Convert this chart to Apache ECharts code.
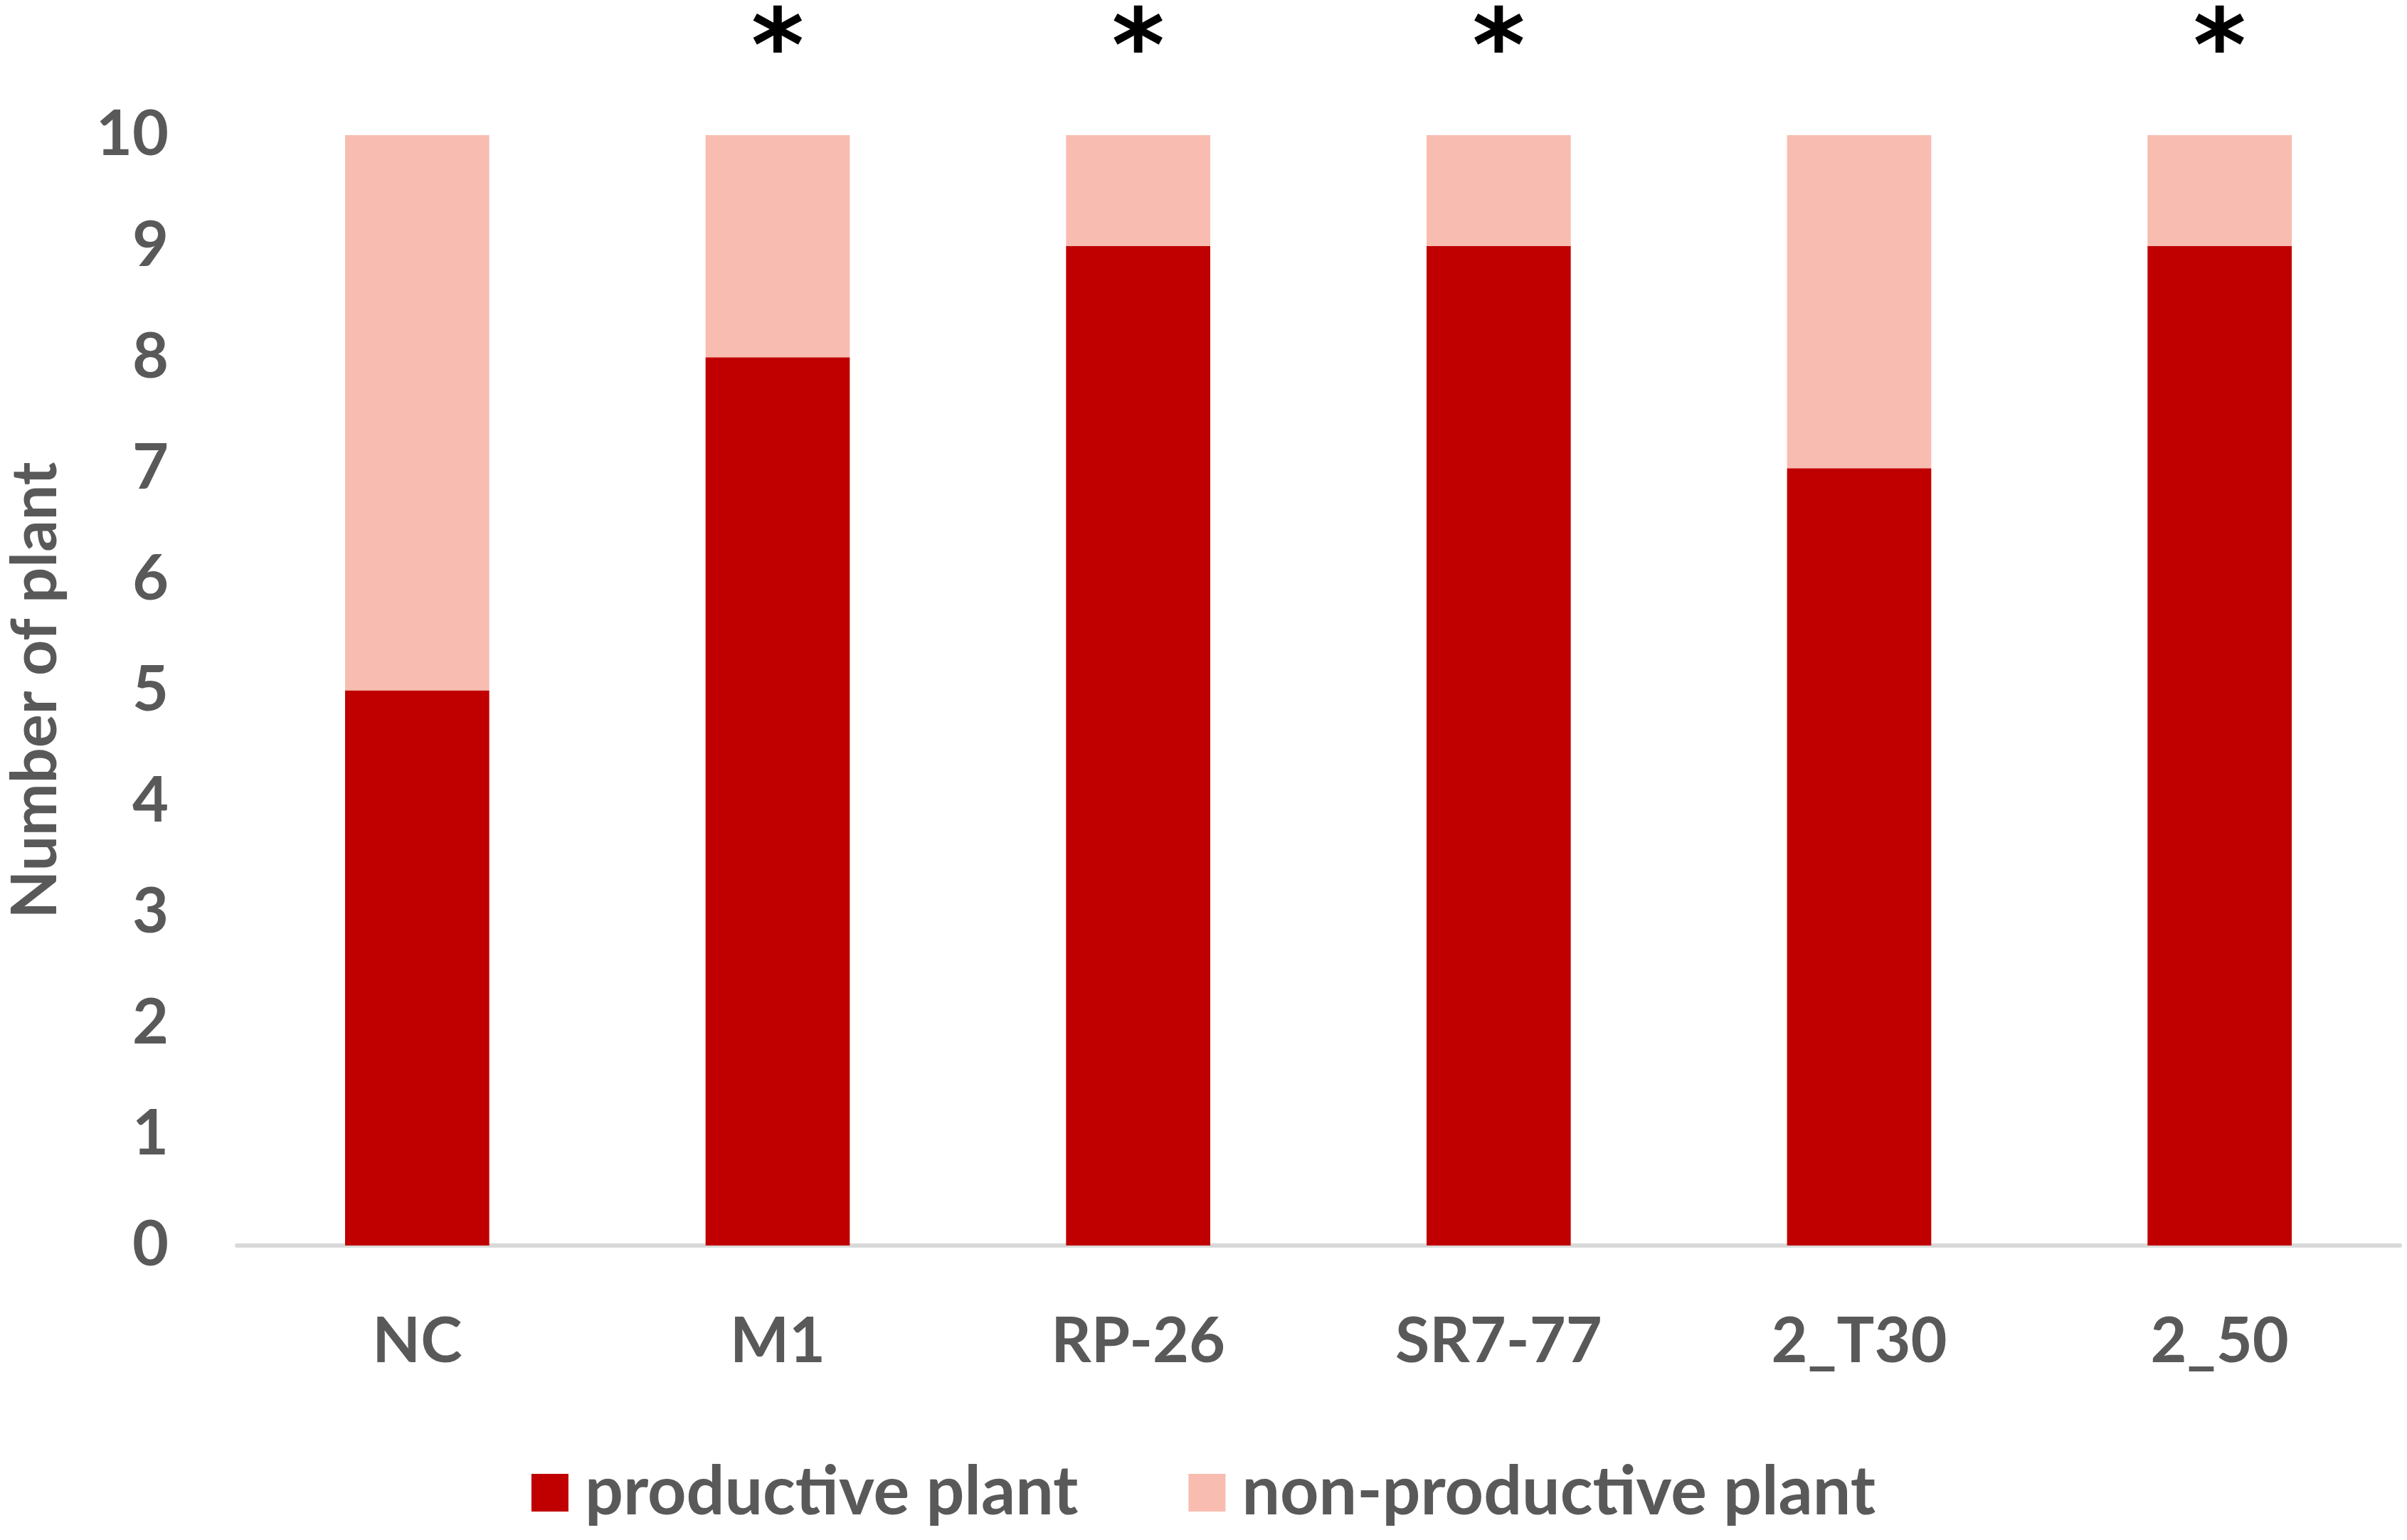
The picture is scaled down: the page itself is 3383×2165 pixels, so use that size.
<!DOCTYPE html>
<html>
<head>
<meta charset="utf-8">
<script src="https://cdn.jsdelivr.net/npm/echarts@6/dist/echarts.min.js"></script>
<style>
  html, body { margin: 0; padding: 0; background: #fff; }
  #main { width: 3383px; height: 2165px; }
</style>
</head>
<body>
<div id="main"></div>
<script>
var categories = ['NC', 'M1', 'RP-26', 'SR7-77', '2_T30', '2_50'];
var productive = [5, 8, 9, 9, 7, 9];
var nonProductive = [5, 2, 1, 1, 3, 1];
var significant = [false, true, true, true, false, true];
var yTicks = [0, 1, 2, 3, 4, 5, 6, 7, 8, 9, 10];

var myChart = echarts.init(document.getElementById('main'));
var font = 'Lato';
var grey = '#595959';

var option = {
    backgroundColor: '#ffffff',
    animation: false,
    textStyle: { fontFamily: font },
    grid: {
        left: 333,
        right: 10,
        top: 190,
        bottom: 414,
        containLabel: false,
        outerBoundsMode: 'none'
    },
    legend: {
        bottom: 14,
        left: 'center',
        itemWidth: 52,
        itemHeight: 53,
        itemGap: 155,
        icon: 'rect',
        textStyle: {
            fontFamily: font,
            fontWeight: 'bold',
            fontSize: 95,
            color: grey,
            padding: [0, 0, 0, 18]
        },
        data: ['productive plant', 'non-productive plant']
    },
    xAxis: {
        type: 'category',
        data: categories,
        axisLine: { show: true, lineStyle: { color: '#d9d9d9', width: 6 } },
        axisTick: { show: false },
        axisLabel: {
            margin: 92,
            fontFamily: font,
            fontWeight: 'bold',
            fontSize: 88,
            color: grey
        }
    },
    yAxis: {
        type: 'value',
        min: yTicks[0],
        max: yTicks[yTicks.length - 1],
        interval: 1,
        name: 'Number of plant',
        nameLocation: 'middle',
        nameGap: 238,
        nameRotate: 90,
        nameTextStyle: {
            fontFamily: font,
            fontWeight: 'bold',
            fontSize: 88,
            color: grey
        },
        axisLine: { show: false },
        axisTick: { show: false },
        splitLine: { show: false },
        axisLabel: {
            margin: 96,
            fontFamily: font,
            fontWeight: 'bold',
            fontSize: 88,
            color: grey
        }
    },
    series: [{
        name: 'productive plant',
        type: 'bar',
        stack: 'total',
        barWidth: '40%',
        itemStyle: { color: '#c00000' },
        data: productive
    }, {
        name: 'non-productive plant',
        type: 'bar',
        stack: 'total',
        barWidth: '40%',
        itemStyle: { color: '#f8bcb0' },
        label: {
            show: true,
            position: 'top',
            distance: 42,
            fontFamily: 'DejaVu Sans',
            fontWeight: 'bold',
            fontSize: 142,
            color: '#000000',
            formatter: function (p) {
                return significant[p.dataIndex] ? '*' : '';
            }
        },
        data: nonProductive
    }]
};

myChart.setOption(option);
</script>
</body>
</html>
